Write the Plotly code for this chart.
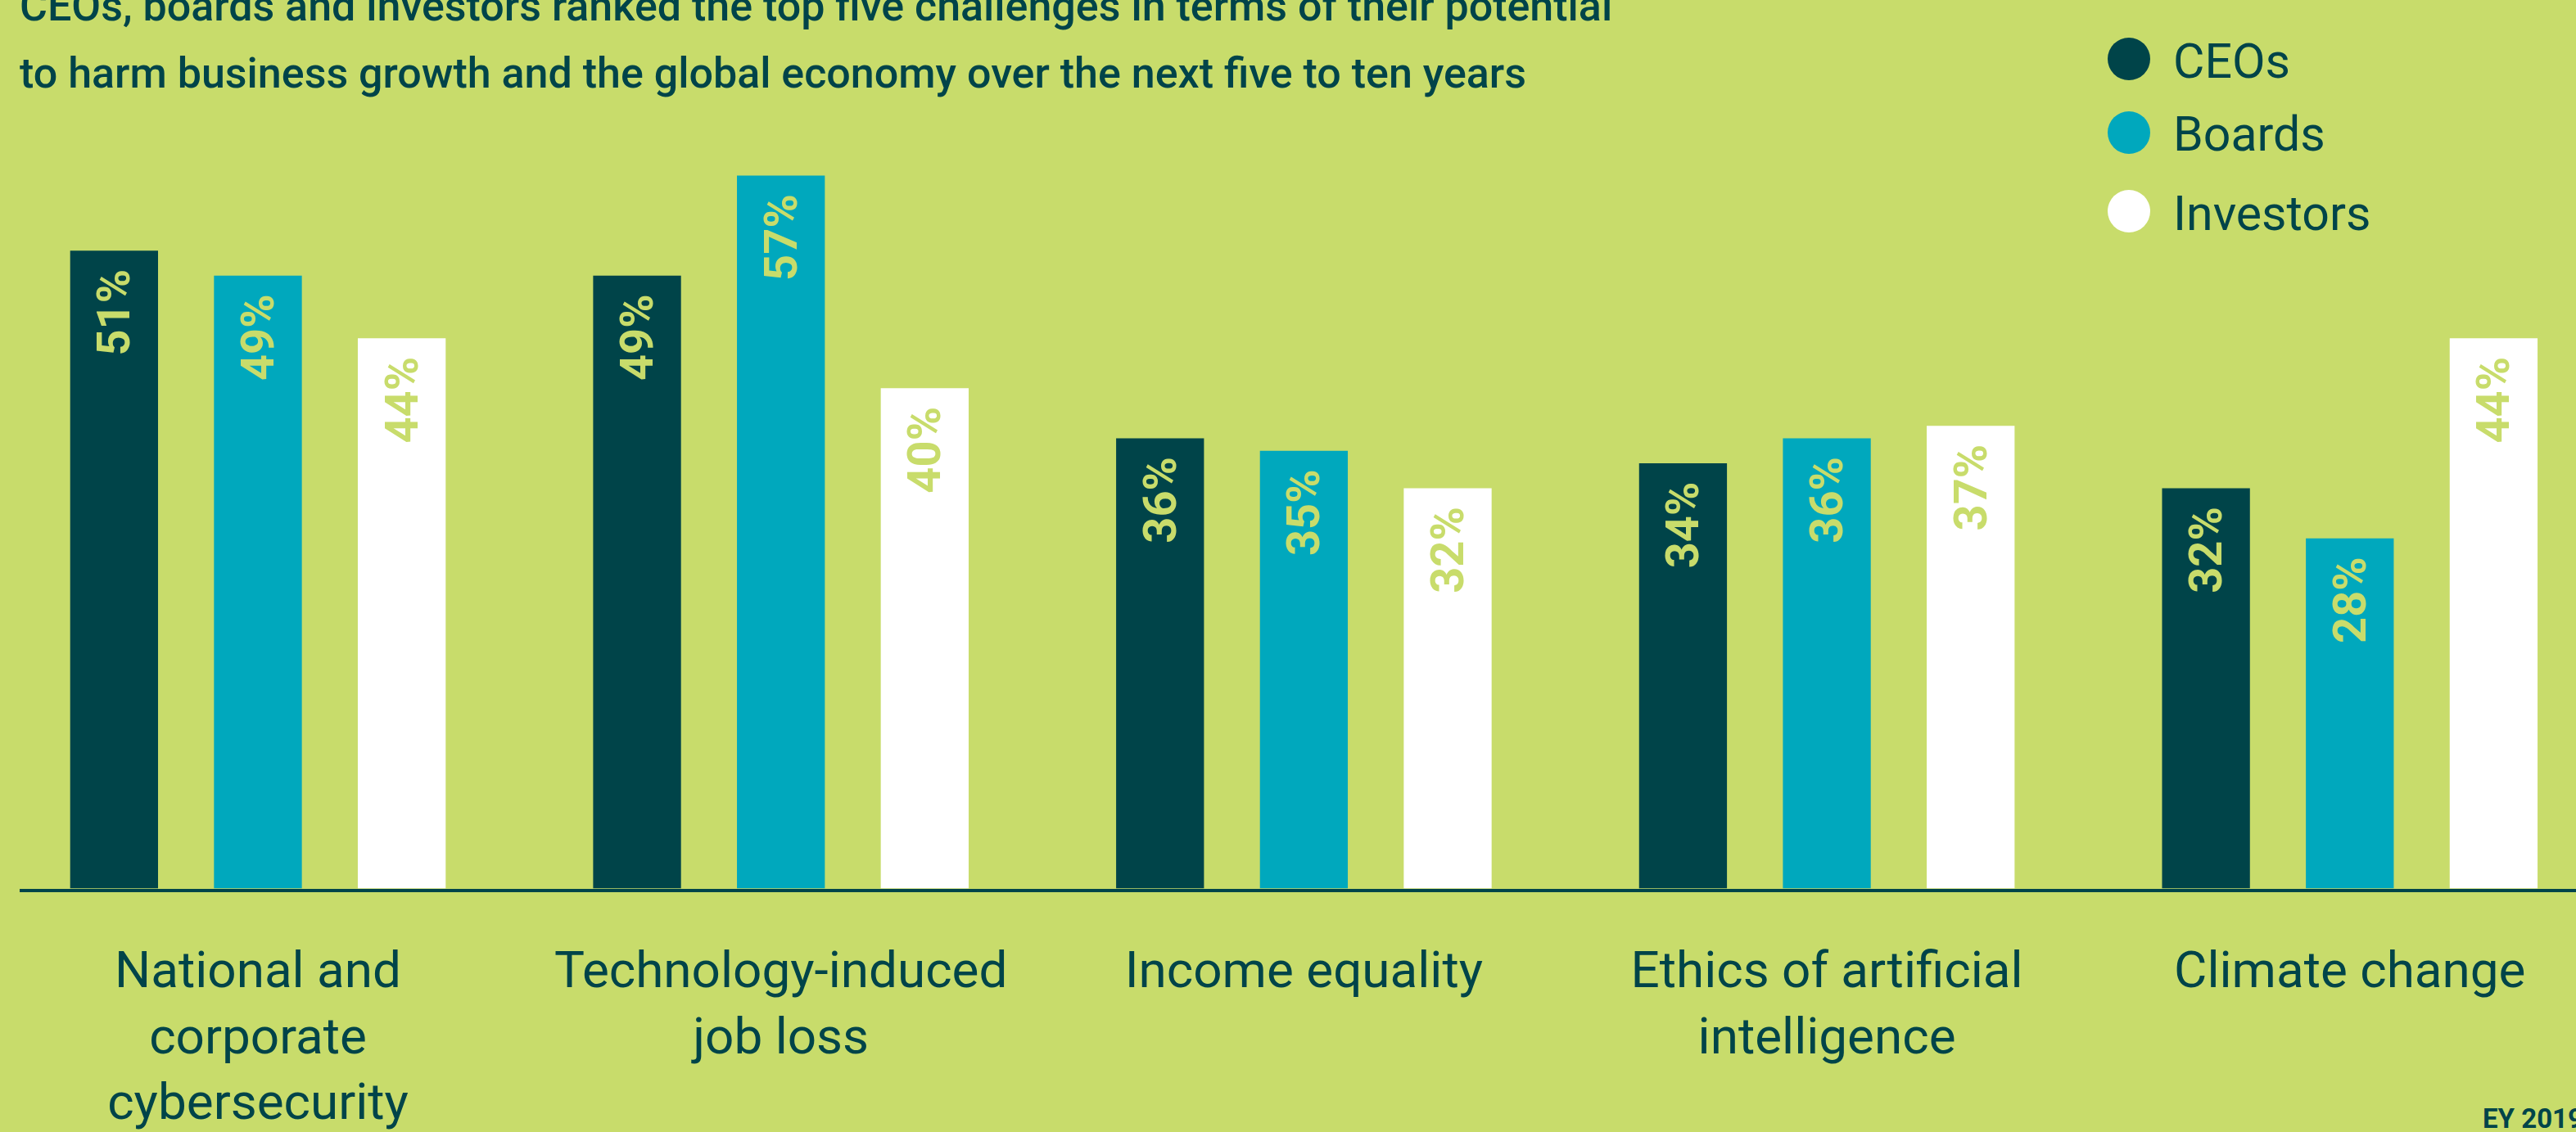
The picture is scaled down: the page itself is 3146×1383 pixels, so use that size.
import plotly.graph_objects as go

W, H = 3146, 1383

categories = ["National and corporate cybersecurity", "Technology-induced job loss",
              "Income equality", "Ethics of artificial intelligence", "Climate change"]
tick_labels = ["National and<br>corporate<br>cybersecurity", "Technology-induced<br>job loss",
               "Income equality", "Ethics of artificial<br>intelligence", "Climate change"]
series_names = ["CEOs", "Boards", "Investors"]
ceos = [51, 49, 36, 34, 32]
boards = [49, 57, 35, 36, 28]
investors = [44, 40, 32, 37, 44]
title_lines = ["CEOs, boards and investors ranked the top five challenges in terms of their potential",
               "to harm business growth and the global economy over the next five to ten years"]
source = "EY 2019"

BG = "#c8dc6b"
DARK = "#004449"
TEAL = "#00a8bd"
WHITE = "#ffffff"
colors = [DARK, TEAL, WHITE]
series_values = [ceos, boards, investors]

FONT = "Roboto"
PAD = "\u00a0\u200a"

fig = go.Figure()
for name, vals, col in zip(series_names, series_values, colors):
    fig.add_trace(go.Bar(
        name=name, x=categories, y=vals,
        marker=dict(color=col, line=dict(width=0)),
        text=[f"{v}%" + PAD for v in vals],
        textposition="inside", insidetextanchor="end", textangle=-90,
        insidetextfont=dict(family=FONT, size=56, color=BG, weight=700),
        showlegend=False, hoverinfo="skip",
    ))

def px(x):
    return x / W

def py(y):
    return 1 - y / H

# custom legend (large circles)
legend_y = [72, 162, 258]
for name, col, yy in zip(series_names, colors, legend_y):
    r = 26
    fig.add_shape(type="circle", xref="paper", yref="paper",
                  x0=px(2600 - r), x1=px(2600 + r), y0=py(yy + r), y1=py(yy - r),
                  fillcolor=col, line=dict(width=0))
    fig.add_annotation(xref="paper", yref="paper", x=px(2652), y=py(yy + 2),
                       xanchor="left", yanchor="middle", showarrow=False, text=name,
                       font=dict(family=FONT, size=59, color=DARK))

# title lines
for line, yy in zip(title_lines, [8, 90]):
    fig.add_annotation(xref="paper", yref="paper", x=px(22), y=py(yy),
                       xanchor="left", yanchor="middle", showarrow=False, text=line,
                       font=dict(family=FONT, size=52, color=DARK, weight=500))

fig.add_annotation(xref="paper", yref="paper", x=px(3030), y=py(1366),
                   xanchor="left", yanchor="middle", showarrow=False, text=f"<b>{source}</b>",
                   font=dict(family=FONT, size=33, color=DARK))

fig.update_layout(
    width=W, height=H,
    paper_bgcolor=BG, plot_bgcolor=BG,
    margin=dict(l=0, r=0, t=0, b=0, autoexpand=False),
    barmode="group", bargap=0.175, bargroupgap=0.389,
    xaxis=dict(domain=[24 / W, 1], range=[-0.4556, 4.4325], automargin=False,
               tickmode="array", tickvals=categories, ticktext=tick_labels,
               showline=True, linecolor=DARK, linewidth=4, showgrid=False,
               ticks="", ticklabelstandoff=42,
               tickfont=dict(family=FONT, size=62, color=DARK), zeroline=False),
    yaxis=dict(domain=[(H - 1085.5) / H, (H - 100) / H], range=[0, 64.5],
               automargin=False, visible=False, showgrid=False, zeroline=False),
    font=dict(family=FONT, color=DARK),
)

fig.write_html("out.html", config={"displayModeBar": False},
               post_script="document.body.style.margin='0';document.body.style.overflow='hidden';")
